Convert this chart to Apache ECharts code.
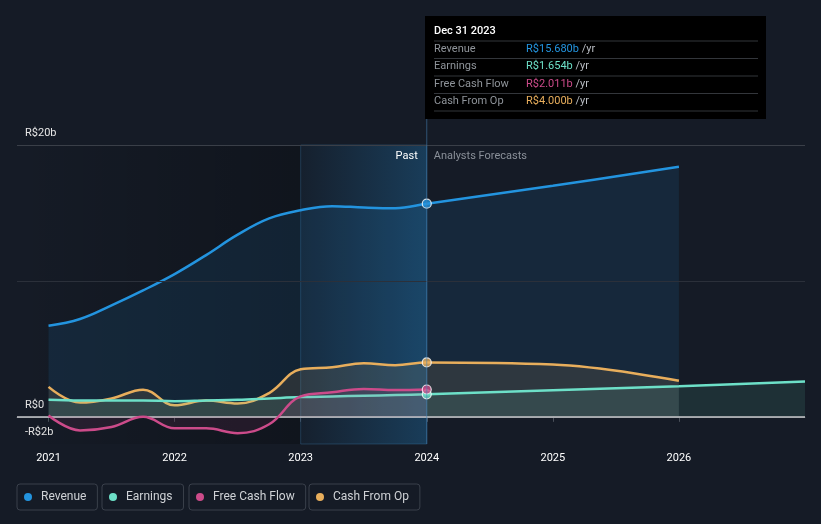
<!DOCTYPE html>
<html><head><meta charset="utf-8">
<script src="https://cdn.jsdelivr.net/npm/echarts@6/dist/echarts.min.js"></script>
<style>html,body{margin:0;padding:0;background:#151b26;}#c{width:821px;height:524px;}</style>
</head><body><div id="c"></div>
<script>
// ---- data ----
const pastYears = [2021, 2021.25, 2021.5, 2021.75, 2022, 2022.25, 2022.5, 2022.75, 2023, 2023.25, 2023.5, 2023.75, 2024];
const revenuePast = [6.7, 7.2, 8.2, 9.3, 10.5, 11.9, 13.4, 14.6, 15.2, 15.5, 15.4, 15.35, 15.68];
const revenueForecastYears = [2025, 2026];
const revenueForecast = [17.0, 18.4];
const earningsPast = [1.25, 1.2, 1.2, 1.2, 1.15, 1.2, 1.25, 1.35, 1.45, 1.5, 1.55, 1.6, 1.654];
const earningsForecastYears = [2025, 2026, 2027];
const earningsForecast = [1.95, 2.25, 2.6];
const fcfPast = [0.1, -1.0, -0.75, 0.0, -0.85, -0.85, -1.2, -0.55, 1.5, 1.8, 2.05, 1.97, 2.011];
const cfoPast = [2.2, 1.05, 1.35, 2.0, 0.85, 1.2, 0.98, 1.75, 3.5, 3.65, 3.95, 3.8, 4.0];
const cfoForecastYears = [2025, 2026];
const cfoForecast = [3.85, 2.65];
const yearTicks = [2021, 2022, 2023, 2024, 2025, 2026];
const yLabelValues = [20, 0, -2];
const yLabelTexts = ['R$20b', 'R$0', '-R$2b'];
const seriesNames = ['Revenue', 'Earnings', 'Free Cash Flow', 'Cash From Op'];
const seriesColors = ['#2394df', '#6de0c8', '#cc4b8a', '#e8ae5c'];
const tooltipDate = 'Dec 31 2023';
const tooltipYear = 2024;
const tooltipValues = [15.680, 1.654, 2.011, 4.000];
const pastStart = 2023, pastEnd = 2024;

// ---- build ----
const zip = (xs, ys) => xs.map((x, i) => [x, ys[i]]);
const revenueData = zip(pastYears, revenuePast).concat(zip(revenueForecastYears, revenueForecast));
const earningsData = zip(pastYears, earningsPast).concat(zip(earningsForecastYears, earningsForecast));
const fcfData = zip(pastYears, fcfPast);
const cfoData = zip(pastYears, cfoPast).concat(zip(cfoForecastYears, cfoForecast));
const FONT = 'Roboto';

const chart = echarts.init(document.getElementById('c'));
function lineSeries(name, data, color, areaAlpha, z) {
  return {
    name, type: 'line', data, smooth: 0.4, symbol: 'none', z,
    lineStyle: { color, width: 2.5 },
    itemStyle: { color },
    areaStyle: { color: echarts.color.modifyAlpha(color, areaAlpha) },
    emphasis: { disabled: true }, silent: true
  };
}
const legends = seriesNames.map((n, i) => ({
  data: [n], left: [17, 102, 189, 309][i], top: 484,
  orient: 'horizontal', icon: 'circle', itemWidth: 16, itemHeight: 8,
  padding: [7, 11, 7, 7], borderColor: '#3a404b', borderWidth: 1, borderRadius: 3,
  textStyle: { color: '#cfd2d6', fontSize: 12, fontFamily: FONT }
}));

chart.setOption({
  backgroundColor: '#151b26',
  animation: false,
  textStyle: { fontFamily: FONT },
  legend: legends,
  grid: { left: 17, right: 16, top: 145, bottom: 80 },
  xAxis: {
    type: 'value', min: 2020.75, max: 2027,
    axisLine: { show: true, lineStyle: { color: '#4a505a', width: 1 } },
    axisTick: { show: true, customValues: yearTicks, length: 5, lineStyle: { color: '#4a505a' } },
    axisLabel: { customValues: yearTicks, formatter: v => String(Math.round(v)), color: '#ffffff', fontSize: 11, margin: 9, fontFamily: FONT },
    splitLine: { show: false }
  },
  yAxis: {
    type: 'value', min: -2, max: 20, interval: 2,
    axisLine: { show: false }, axisTick: { show: false },
    splitLine: { show: false },
    axisLabel: {
      inside: true, margin: 8, verticalAlign: 'bottom', padding: [0, 0, 6, 0],
      color: '#e6e6e6', fontSize: 11, fontFamily: FONT,
      formatter: v => { const k = yLabelValues.indexOf(Math.round(v)); return k >= 0 ? yLabelTexts[k] : ''; }
    }
  },
  series: [
    {
      type: 'line', data: [], z: 1, silent: true,
      markArea: {
        silent: true,
        data: [
          [{ xAxis: 2020.75, itemStyle: { color: new echarts.graphic.LinearGradient(0, 0, 1, 0, [{ offset: 0, color: 'rgba(0,0,0,0)' }, { offset: 1, color: 'rgba(0,0,0,0.24)' }]) } }, { xAxis: pastStart }],
          [{ xAxis: pastStart, itemStyle: { color: new echarts.graphic.LinearGradient(0, 0, 1, 0, [{ offset: 0, color: 'rgba(35,148,223,0.04)' }, { offset: 1, color: 'rgba(35,148,223,0.28)' }]), borderColor: 'rgba(60,120,170,0.35)', borderWidth: 1 } }, { xAxis: pastEnd }]
        ]
      },
      markLine: {
        silent: true, symbol: 'none', label: { show: false },
        data: [
          { yAxis: 20, lineStyle: { color: '#3a3f48', width: 1, type: 'solid' } },
          { yAxis: 10, lineStyle: { color: '#2b303a', width: 1, type: 'solid' } },
          { yAxis: 0, lineStyle: { color: '#c8cacd', width: 1.5, type: 'solid' } }
        ]
      }
    },
    lineSeries('Revenue', revenueData, seriesColors[0], 0.17, 2),
    lineSeries('Cash From Op', cfoData, seriesColors[3], 0.17, 3),
    lineSeries('Earnings', earningsData, seriesColors[1], 0.15, 4),
    lineSeries('Free Cash Flow', fcfData, seriesColors[2], 0.14, 5),
    {
      type: 'scatter', z: 10, silent: true, symbolSize: 9,
      data: tooltipValues.map((v, i) => ({ value: [tooltipYear, v], itemStyle: { color: seriesColors[i], borderColor: '#ffffff', borderWidth: 1.2 } }))
    }
  ]
});

const xp = chart.convertToPixel({ gridIndex: 0 }, [tooltipYear, 0])[0];
const rowY = [49, 66.5, 84, 101.5];
const tipChildren = [
  { type: 'rect', shape: { x: 425, y: 16, width: 341, height: 103 }, style: { fill: '#000000' } },
  { type: 'text', style: { x: 434, y: 31, text: tooltipDate, fill: '#ffffff', font: '500 11px Roboto', textVerticalAlign: 'middle' } }
];
[41, 58.5, 76, 93.5, 111].forEach(y => tipChildren.push({ type: 'line', shape: { x1: 434, y1: y, x2: 758, y2: y }, style: { stroke: '#33363b', lineWidth: 1 } }));
seriesNames.forEach((n, i) => {
  tipChildren.push({ type: 'text', style: { x: 434, y: rowY[i], text: n, fill: '#8f949a', font: '11px Roboto', textVerticalAlign: 'middle' } });
  tipChildren.push({ type: 'text', style: { x: 526, y: rowY[i], text: '{v|R$' + tooltipValues[i].toFixed(3) + 'b} {u|/yr}', font: '11px Roboto', textVerticalAlign: 'middle',
    rich: { v: { fill: seriesColors[i], font: '11px Roboto' }, u: { fill: '#b8bcc2', font: '11px Roboto' } } } });
});
chart.setOption({
  graphic: [
    { type: 'line', z: 50, shape: { x1: xp, y1: 119, x2: xp, y2: 444 }, style: { stroke: 'rgba(70,130,180,0.55)', lineWidth: 1 }, silent: true },
    { type: 'text', z: 50, style: { x: xp - 9, y: 156, text: 'Past', fill: '#ffffff', font: '11px Roboto', textAlign: 'right', textVerticalAlign: 'middle' }, silent: true },
    { type: 'text', z: 50, style: { x: xp + 7, y: 156, text: 'Analysts Forecasts', fill: '#8a9099', font: '11px Roboto', textAlign: 'left', textVerticalAlign: 'middle' }, silent: true },
    { type: 'group', z: 60, silent: true, children: tipChildren }
  ]
});
</script>
</body></html>
